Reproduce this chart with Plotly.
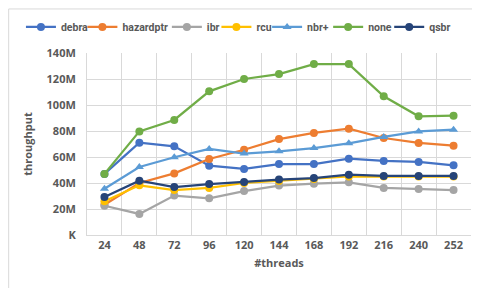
import plotly.graph_objects as go

threads = ["24", "48", "72", "96", "120", "144", "168", "192", "216", "240", "252"]

debra     = [47.0, 71.0, 68.2, 53.3, 50.8, 54.6, 54.6, 58.7, 57.0, 56.2, 53.6]
hazardptr = [23.3, 40.0, 47.4, 58.5, 65.6, 73.8, 78.5, 81.8, 74.6, 70.8, 68.7]
ibr       = [22.5, 16.2, 30.3, 28.2, 33.8, 38.0, 39.5, 40.5, 36.2, 35.4, 34.6]
rcu       = [25.9, 38.2, 34.6, 36.2, 40.0, 41.5, 43.0, 45.0, 45.0, 45.0, 45.0]
nbrplus   = [35.6, 52.3, 59.8, 66.2, 62.6, 64.4, 66.9, 70.5, 75.4, 79.7, 81.0]
none      = [47.0, 79.7, 88.5, 110.5, 120.0, 123.8, 131.5, 131.5, 106.7, 91.3, 91.8]
qsbr      = [29.2, 41.8, 36.9, 39.2, 40.8, 42.6, 43.8, 46.4, 45.4, 45.4, 45.4]

y_tickvals = [0, 20, 40, 60, 80, 100, 120, 140]
y_ticktext = ["K", "20M", "40M", "60M", "80M", "100M", "120M", "140M"]

series_names = ["debra", "hazardptr", "ibr", "rcu", "nbr+", "none", "qsbr"]
series_values = [debra, hazardptr, ibr, rcu, nbrplus, none, qsbr]
series_colors = ["#4472C4", "#ED7D31", "#A5A5A5", "#FFC000", "#5B9BD5", "#70AD47", "#264478"]
series_symbols = ["circle", "circle", "circle", "circle", "triangle-up", "circle", "circle"]
# left edge (paper fraction of plot width) of each one-entry legend
legend_x = [-0.172, -0.012, 0.208, 0.337, 0.469, 0.628, 0.787]

fam = "Open Sans, Liberation Sans, sans-serif"
txt = dict(family=fam, size=11, color="#595959", weight="bold")

fig = go.Figure()
legends = {}
for i, (name, vals, color, sym) in enumerate(zip(series_names, series_values, series_colors, series_symbols)):
    key = "legend" if i == 0 else f"legend{i + 1}"
    fig.add_trace(go.Scatter(
        x=threads, y=vals, name=name, mode="lines+markers",
        line=dict(color=color, width=2.25),
        marker=dict(color=color, size=8, symbol=sym),
        legend=key,
    ))
    legends[key] = dict(orientation="h", x=legend_x[i], xanchor="left", y=1.143, yanchor="middle",
                        font=dict(family="Roboto, sans-serif", size=10.5, color="#595959", weight="bold"),
                        itemwidth=30, bgcolor="rgba(0,0,0,0)", borderwidth=0)

fig.update_layout(
    width=480, height=288,
    margin=dict(l=79, r=17, t=45, b=61, autoexpand=False),
    paper_bgcolor="white", plot_bgcolor="white",
    font=dict(family=fam, size=11, color="#595959"),
    showlegend=True,
    xaxis=dict(type="category", tickson="boundaries", showgrid=True, gridcolor="#D9D9D9",
               gridwidth=1, showline=True, linecolor="#D9D9D9", linewidth=1,
               ticks="", tickfont=txt,
               title=dict(text="#threads", font=txt, standoff=8),
               range=[-0.5, 10.5], fixedrange=True),
    yaxis=dict(range=[0, 140], tickvals=y_tickvals, ticktext=y_ticktext,
               showgrid=True, gridcolor="#D9D9D9", gridwidth=1, zeroline=False,
               showline=True, linecolor="#D9D9D9", ticks="", ticklabelstandoff=8,
               tickfont=txt,
               title=dict(text="throughput", font=txt, standoff=11),
               fixedrange=True),
    shapes=[dict(type="rect", xref="paper", yref="paper",
                 x0=-0.204, x1=1.0365, y0=-0.324, y1=1.242,
                 line=dict(color="#D9D9D9", width=1), fillcolor="rgba(0,0,0,0)", layer="below")],
    **legends,
)

fig.write_html("out.html")
